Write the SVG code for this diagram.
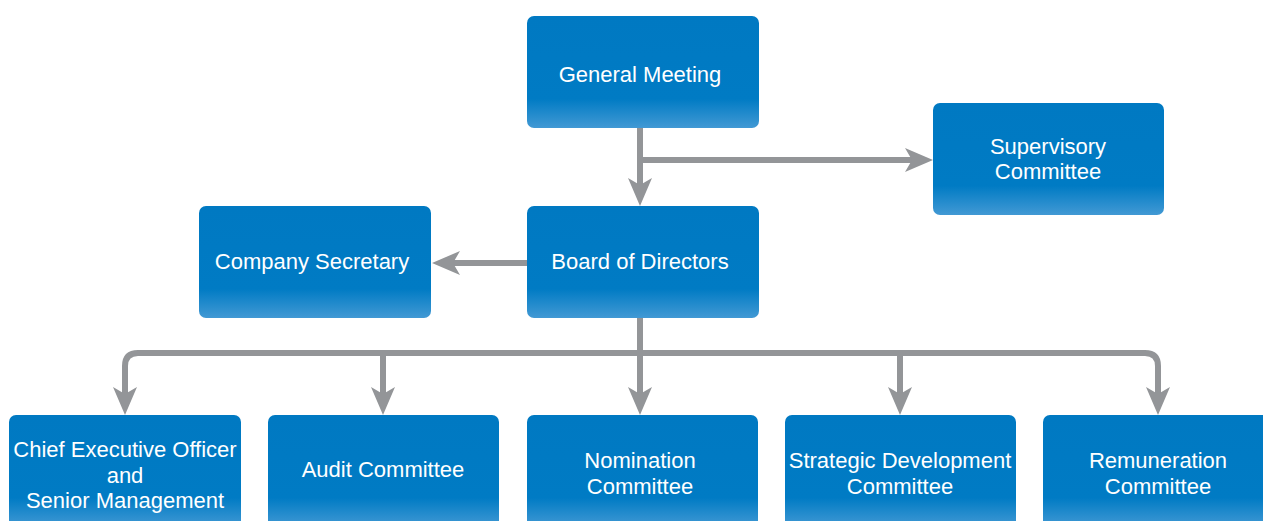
<svg xmlns="http://www.w3.org/2000/svg" width="1263" height="521" viewBox="0 0 1263 521">
<defs>
<linearGradient id="boxg" x1="0" y1="0" x2="0" y2="1">
<stop offset="0" stop-color="#0079C2"/>
<stop offset="0.74" stop-color="#007BC4"/>
<stop offset="1" stop-color="#4299D4"/>
</linearGradient>
<marker id="arr" markerUnits="userSpaceOnUse" viewBox="0 0 28 24" refX="21" refY="12" markerWidth="28" markerHeight="24" orient="auto">
<path d="M0,0 L28,12 L0,24 L7,12 Z" fill="#939598"/>
</marker>
</defs>
<style>
.box{fill:url(#boxg);}
.lbl{fill:#ffffff;font-family:"Liberation Sans","Open Sans","DejaVu Sans",sans-serif;font-size:22px;text-anchor:middle;}
.con{fill:none;stroke:#939598;stroke-width:6;marker-end:url(#arr);}
</style>
<rect width="1263" height="521" fill="#ffffff"/>
<g id="connectors">
<path class="con" d="M640,128 V199"/>
<path class="con" d="M640,160 H926"/>
<path class="con" d="M527,263 H439"/>
<path class="con" d="M640,318 V408"/>
<path class="con" d="M643,353 H138 Q125,353 125,366 V408"/>
<path class="con" d="M637,353 H1145 Q1158,353 1158,366 V408"/>
<path class="con" d="M383,353 V408"/>
<path class="con" d="M900,353 V408"/>
</g>
<g id="general-meeting">
<rect class="box" x="527" y="16" width="232" height="112" rx="7"/>
<text class="lbl" x="640" y="82">General Meeting</text>
</g>
<g id="supervisory-committee">
<rect class="box" x="933" y="103" width="231" height="112" rx="7"/>
<text class="lbl" x="1048" y="154"><tspan x="1048">Supervisory</tspan><tspan x="1048" dy="25">Committee</tspan></text>
</g>
<g id="board-of-directors">
<rect class="box" x="527" y="206" width="232" height="112" rx="7"/>
<text class="lbl" x="640" y="269">Board of Directors</text>
</g>
<g id="company-secretary">
<rect class="box" x="199" y="206" width="232" height="112" rx="7"/>
<text class="lbl" x="312" y="269">Company Secretary</text>
</g>
<g id="ceo">
<rect class="box" x="9" y="415" width="232" height="112" rx="7"/>
<text class="lbl" x="125" y="457"><tspan x="125">Chief Executive Officer</tspan><tspan x="125" dy="26">and</tspan><tspan x="125" dy="25">Senior Management</tspan></text>
</g>
<g id="audit-committee">
<rect class="box" x="268" y="415" width="231" height="112" rx="7"/>
<text class="lbl" x="383" y="477">Audit Committee</text>
</g>
<g id="nomination-committee">
<rect class="box" x="527" y="415" width="231" height="112" rx="7"/>
<text class="lbl" x="640" y="468"><tspan x="640">Nomination</tspan><tspan x="640" dy="26">Committee</tspan></text>
</g>
<g id="strategic-development-committee">
<rect class="box" x="785" y="415" width="231" height="112" rx="7"/>
<text class="lbl" x="900" y="468"><tspan x="900">Strategic Development</tspan><tspan x="900" dy="26">Committee</tspan></text>
</g>
<g id="remuneration-committee">
<rect class="box" x="1043" y="415" width="231" height="112" rx="7"/>
<text class="lbl" x="1158" y="468"><tspan x="1158">Remuneration</tspan><tspan x="1158" dy="26">Committee</tspan></text>
</g>
</svg>
